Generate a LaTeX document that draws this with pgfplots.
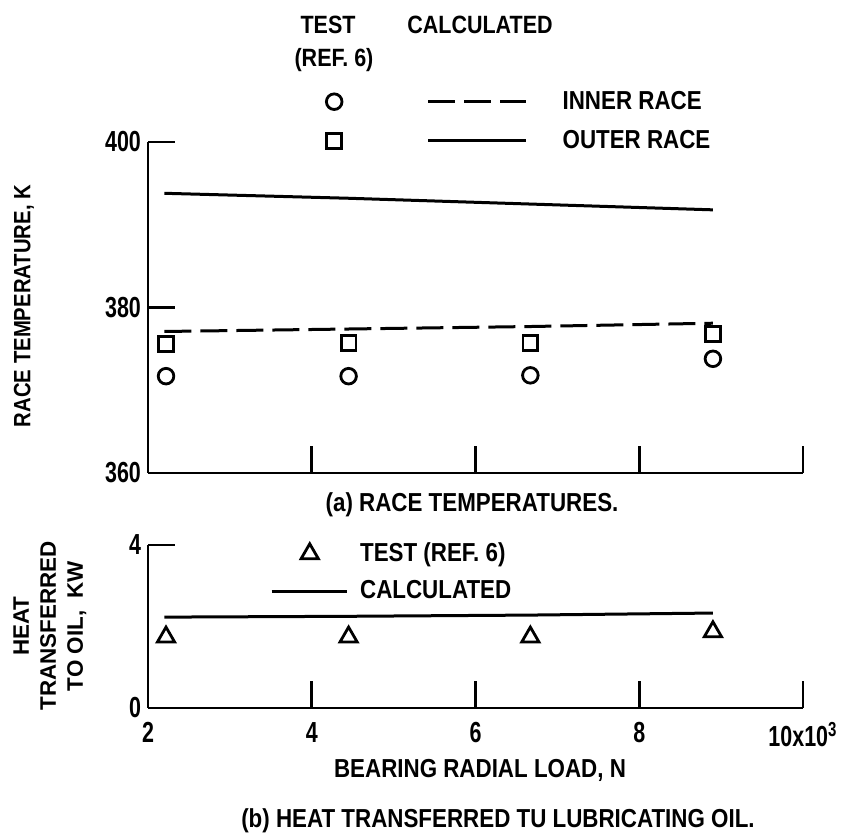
\documentclass[border=0pt]{standalone}
\usepackage{fontspec}
\setmainfont{Liberation Sans}[FakeStretch=0.86]
\newfontfamily\numfont{Liberation Sans}[FakeStretch=0.74]
\newfontfamily\widesans{Liberation Sans}
\usepackage{pgfplots}
\pgfplotsset{compat=1.18}

% Race temperatures (K) versus bearing radial load (10^3 N)
\pgfplotstableread{
load  T
2.22  371.7
4.45  371.7
6.67  371.8
8.90  373.8
}\innertest
\pgfplotstableread{
load  T
2.22  375.6
4.45  375.7
6.67  375.7
8.90  376.8
}\outertest
\pgfplotstableread{
load  T
2.20  377.1
4.45  377.4
6.67  377.7
8.90  378.1
}\innercalc
\pgfplotstableread{
load  T
2.20  393.8
4.45  393.2
6.67  392.5
8.90  391.8
}\outercalc
% Heat transferred to the lubricating oil (kW)
\pgfplotstableread{
load  Q
2.22  1.74
4.45  1.74
6.67  1.74
8.90  1.87
}\heattest
\pgfplotstableread{
load  Q
2.20  2.23
4.45  2.25
6.67  2.28
8.90  2.33
}\heatcalc

\newcommand\lbl{\bfseries\fontsize{13}{13}\selectfont}

\begin{document}
\begin{tikzpicture}[x=1pt,y=1pt]
\useasboundingbox (0,0) rectangle (422,419);
\pgfplotsset{
  bearing/.style={
    scale only axis, width=327.5pt,
    xmin=2, xmax=10,
    axis x line=bottom, axis y line=left,
    axis line style={-, line width=1.4pt},
    tick align=inside, major tick length=13.5pt,
    every tick/.style={line width=1.3pt, black},
    tick label style={font=\numfont\bfseries\fontsize{14.5}{14.5}\selectfont},
    xticklabel style={yshift=-3.5pt},
    clip=false,
    legend cell align=left,
    legend style={draw=none, fill=none, font=\lbl,
      nodes={inner sep=0pt, anchor=west}},
  },
}

% (a) race temperatures
\begin{axis}[bearing,
  at={(74pt,182.5pt)}, anchor=south west, height=165.5pt,
  ymin=360, ymax=400,
  ytick={360,380,400}, yticklabels={360,380,400},
  xtick={2,4,6,8,10}, xticklabels={},
  legend style={at={(0.2626,1.167)}, anchor=north west, row sep=9pt},
]
\addplot[forget plot, only marks, mark=o, mark size=3.9pt,
  mark options={line width=1.4pt}] table[x=load, y=T] {\innertest};
\addplot[forget plot, only marks, mark=square, mark size=3.7pt,
  mark options={line width=1.4pt}] table[x=load, y=T] {\outertest};
\addplot[forget plot, line width=1.5pt, dash pattern=on 13.5pt off 4.5pt]
  table[x=load, y=T] {\innercalc};
\addplot[forget plot, line width=1.5pt] table[x=load, y=T] {\outercalc};

\addlegendimage{legend image code/.code={
  \draw[line width=1.4pt] plot[mark=o, mark size=3.9pt] coordinates {(4pt,0pt)};
  \draw[line width=1.5pt, dash pattern=on 13.5pt off 4.5pt] (51pt,0pt) -- (100pt,0pt);
  \path (118pt,0pt);}}
\addlegendentry{INNER RACE}
\addlegendimage{legend image code/.code={
  \draw[line width=1.4pt] plot[mark=square, mark size=3.7pt] coordinates {(4pt,0pt)};
  \draw[line width=1.5pt] (51pt,0pt) -- (100pt,0pt);
  \path (118pt,0pt);}}
\addlegendentry{OUTER RACE}
\end{axis}

% (b) heat transferred to oil
\begin{axis}[bearing,
  at={(74pt,65pt)}, anchor=south west, height=81.5pt,
  ymin=0, ymax=4,
  ytick={0,4}, yticklabels={0,4},
  xtick={2,4,6,8,10},
  xticklabels={2,4,6,8,{10x10\textsuperscript{3}}},
  legend style={at={(0.177,1.04)}, anchor=north west, row sep=8pt},
]
\addplot[forget plot, only marks, mark=triangle, mark size=5pt,
  mark options={line width=1.4pt}] table[x=load, y=Q] {\heattest};
\addplot[forget plot, line width=1.5pt] table[x=load, y=Q] {\heatcalc};

\addlegendimage{legend image code/.code={
  \draw[line width=1.4pt] plot[mark=triangle, mark size=5pt] coordinates {(19pt,0pt)};
  \path (0pt,0pt) (44pt,0pt);}}
\addlegendentry{TEST (REF. 6)}
\addlegendimage{legend image code/.code={
  \draw[line width=1.4pt] (0pt,0pt) -- (37.5pt,0pt);
  \path (44pt,0pt);}}
\addlegendentry{CALCULATED}
\end{axis}

% column headings of the upper key, captions and axis titles
\begin{scope}[font=\bfseries\fontsize{12.5}{12.5}\selectfont]
\node at (164,406.5) {TEST};
\node at (167,389) {(REF. 6)};
\node at (240,406.5) {CALCULATED};
\end{scope}
\node[rotate=90, font=\bfseries\fontsize{11.8}{11.8}\selectfont]
  at (12,266) {RACE TEMPERATURE, K};
\node[font=\lbl] at (236,166.5) {(a) RACE TEMPERATURES.};
\node[font=\lbl] at (240,34) {BEARING RADIAL LOAD, N};
\node[font=\lbl] at (249,8.5) {(b) HEAT TRANSFERRED TU LUBRICATING OIL.};
\node[rotate=90, align=center, font=\widesans\bfseries\fontsize{11.2}{13.5}\selectfont]
  at (25,106) {HEAT\\TRANSFERRED\\TO OIL,\ \ KW};
\end{tikzpicture}
\end{document}
